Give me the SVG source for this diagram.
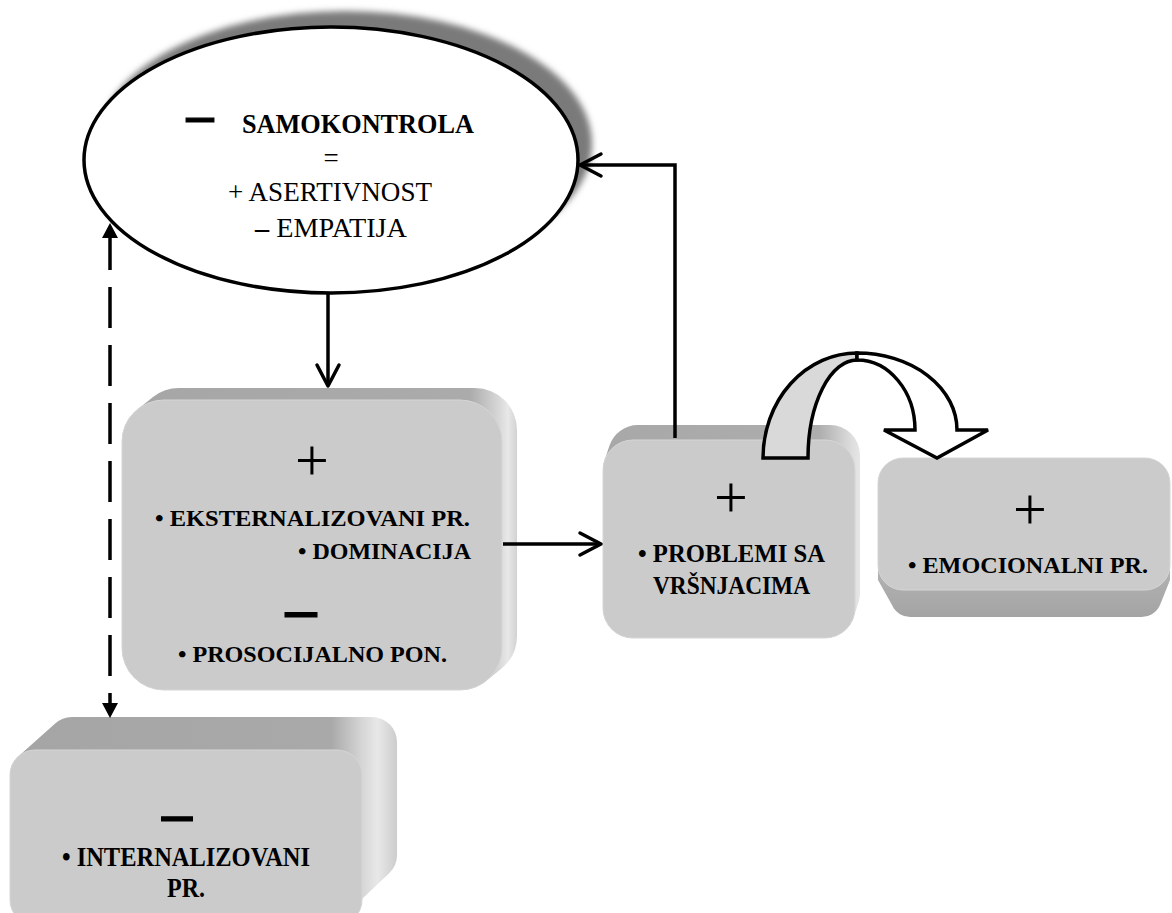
<svg xmlns="http://www.w3.org/2000/svg" width="1172" height="913" viewBox="0 0 1172 913">
  <defs>
    <style>
      .t { font-family: "Liberation Serif", "Times New Roman", serif; fill: #000; }
      .b { font-weight: bold; }
      .sign { font-family: "Liberation Serif", "Times New Roman", serif; font-size: 60px; fill: #000; text-anchor: middle; }
      .dash { font-family: "Liberation Serif", "Times New Roman", serif; font-weight: bold; fill: #000; stroke: #000; stroke-width: 1.2; text-anchor: middle; }
      .face { fill: #cbcbcb; stroke: #d6d6d6; stroke-width: 1; }
      .conn { fill: none; stroke: #000; stroke-width: 3.5; }
    </style>
    <filter id="soft" x="-10%" y="-10%" width="120%" height="120%">
      <feGaussianBlur stdDeviation="3"/>
    </filter>
    <marker id="triBoth" markerUnits="userSpaceOnUse" markerWidth="16" markerHeight="16" refX="0" refY="0" orient="auto-start-reverse" overflow="visible">
      <path d="M0,-8 L15,0 L0,8 Z" fill="#000"/>
    </marker>
    <marker id="chev" markerUnits="userSpaceOnUse" markerWidth="24" markerHeight="24" refX="0" refY="0" orient="auto" overflow="visible">
      <path d="M-21,-11 L0,0 L-21,11" fill="none" stroke="#000" stroke-width="3.5" stroke-linejoin="round" stroke-linecap="round"/>
    </marker>
    <linearGradient id="g1" gradientUnits="userSpaceOnUse" x1="122" y1="0" x2="517" y2="0">
      <stop offset="0" stop-color="#a6a6a6"/>
      <stop offset="0.88" stop-color="#ababab"/>
      <stop offset="0.955" stop-color="#d8d8d8"/>
      <stop offset="0.977" stop-color="#e8e8e8"/>
      <stop offset="1" stop-color="#d2d2d2"/>
    </linearGradient>
    <linearGradient id="g2" gradientUnits="userSpaceOnUse" x1="603" y1="0" x2="860" y2="0">
      <stop offset="0" stop-color="#a8a8a8"/>
      <stop offset="0.84" stop-color="#adadad"/>
      <stop offset="0.97" stop-color="#dedede"/>
      <stop offset="1" stop-color="#e6e6e6"/>
    </linearGradient>
    <linearGradient id="g3" x1="0" y1="0" x2="0" y2="1">
      <stop offset="0" stop-color="#bcbcbc"/>
      <stop offset="0.75" stop-color="#b0b0b0"/>
      <stop offset="1" stop-color="#a4a4a4"/>
    </linearGradient>
    <linearGradient id="g4" gradientUnits="userSpaceOnUse" x1="10" y1="0" x2="397" y2="0">
      <stop offset="0" stop-color="#a5a5a5"/>
      <stop offset="0.83" stop-color="#a9a9a9"/>
      <stop offset="0.91" stop-color="#d6d6d6"/>
      <stop offset="0.95" stop-color="#e8e8e8"/>
      <stop offset="1" stop-color="#cccccc"/>
    </linearGradient>
  </defs>

  <rect width="1172" height="913" fill="#fff"/>

  <!-- top ellipse: self-control -->
  <g id="samokontrola">
    <ellipse cx="345" cy="144" rx="247" ry="133" fill="#7a7a7a" filter="url(#soft)"/>
    <ellipse cx="331" cy="160" rx="247" ry="133" fill="#fff" stroke="#000" stroke-width="3.5"/>
    <text class="dash" x="200" y="133" font-size="54">–</text>
    <text class="t b" x="242" y="133" font-size="27" textLength="232" lengthAdjust="spacingAndGlyphs">SAMOKONTROLA</text>
    <text class="t" x="331" y="167" font-size="27" text-anchor="middle">=</text>
    <text class="t" x="228" y="201" font-size="27" textLength="204" lengthAdjust="spacingAndGlyphs">+ ASERTIVNOST</text>
    <text class="t" x="255" y="237" font-size="27" textLength="152" lengthAdjust="spacingAndGlyphs"><tspan font-weight="bold">–</tspan> EMPATIJA</text>
  </g>

  <!-- externalising problems box -->
  <g id="eksternalizovani">
    <path fill="url(#g1)" d="M153,397 A42,42 0 0 1 179,388 H475 A42,42 0 0 1 517,430 V636 A42,42 0 0 1 501,669 L486,681 A42,42 0 0 1 460,690 H164 A42,42 0 0 1 122,648 V442 A42,42 0 0 1 138,409 Z"/>
    <rect class="face" x="122" y="400" width="380" height="290" rx="42"/>
    <text class="sign" x="312" y="480">+</text>
    <text class="t b" x="155" y="526" font-size="24" textLength="315" lengthAdjust="spacingAndGlyphs">• EKSTERNALIZOVANI PR.</text>
    <text class="t b" x="298" y="559" font-size="24" textLength="173" lengthAdjust="spacingAndGlyphs">• DOMINACIJA</text>
    <text class="dash" x="301" y="629" font-size="62">–</text>
    <text class="t b" x="178" y="662" font-size="24" textLength="269" lengthAdjust="spacingAndGlyphs">• PROSOCIJALNO PON.</text>
  </g>

  <!-- peer problems box -->
  <g id="vrsnjaci">
    <path fill="url(#g2)" d="M609.5,445.5 A30,30 0 0 1 638,425 H830 A30,30 0 0 1 860,455 V593 A30,30 0 0 1 858.5,602.5 L853.5,617.5 A30,30 0 0 1 825,638 H633 A30,30 0 0 1 603,608 V470 A30,30 0 0 1 604.5,460.5 Z"/>
    <rect class="face" x="603" y="440" width="252" height="198" rx="30"/>
    <text class="sign" x="731" y="517">+</text>
    <text class="t b" x="638" y="562" font-size="25" textLength="187" lengthAdjust="spacingAndGlyphs">• PROBLEMI SA</text>
    <text class="t b" x="653" y="594" font-size="25" textLength="157" lengthAdjust="spacingAndGlyphs">VRŠNJACIMA</text>
  </g>

  <!-- emotional problems box -->
  <g id="emocionalni">
    <path fill="url(#g3)" d="M903,458 H1145 A25,25 0 0 1 1170,483 V580 L1160,605 A20,20 0 0 1 1140,617 H912 A20,20 0 0 1 892,605 L878,580 V483 A25,25 0 0 1 903,458 Z"/>
    <rect class="face" x="878" y="458" width="292" height="132" rx="25"/>
    <text class="sign" x="1030" y="529">+</text>
    <text class="t b" x="908" y="573" font-size="24" textLength="240" lengthAdjust="spacingAndGlyphs">• EMOCIONALNI PR.</text>
  </g>

  <!-- internalising problems box -->
  <g id="internalizovani">
    <path fill="url(#g4)" d="M54.9,723.8 A25,25 0 0 1 72,717 H372 A25,25 0 0 1 397,742 V855 A25,25 0 0 1 389.2,873.2 L354.2,906.2 A25,25 0 0 1 337,913 H35 A25,25 0 0 1 10,888 V775 A25,25 0 0 1 17.9,756.8 Z"/>
    <rect class="face" x="10" y="750" width="352" height="175" rx="25"/>
    <text class="dash" x="177" y="833" font-size="60">–</text>
    <text class="t b" x="62" y="866" font-size="27" textLength="248" lengthAdjust="spacingAndGlyphs">• INTERNALIZOVANI</text>
    <text class="t b" x="167" y="897" font-size="27" textLength="38" lengthAdjust="spacingAndGlyphs">PR.</text>
  </g>

  <!-- connectors -->
  <g id="connectors">
    <path class="conn" d="M328,293 V386" marker-end="url(#chev)"/>
    <path class="conn" d="M503,544 H601" marker-end="url(#chev)"/>
    <path class="conn" d="M675,438 V165 H580" marker-end="url(#chev)"/>
    <path class="conn" d="M110,238 V703" stroke-width="4.5" stroke-dasharray="41 17" stroke-dashoffset="9" marker-start="url(#triBoth)" marker-end="url(#triBoth)"/>
    <!-- curved block arrow from peer problems to emotional problems -->
    <path d="M763,458 A94,105 0 0 1 857,353 L857,360 A49,98 0 0 0 808,458 Z" fill="#d9d9d9" stroke="#000" stroke-width="3.5"/>
    <path d="M857,353 A100,77 0 0 1 957,430 H988 L937,458 L884,430 H915 A58,70 0 0 0 857,360 Z" fill="#fff" stroke="#000" stroke-width="3.5"/>
  </g>
</svg>
